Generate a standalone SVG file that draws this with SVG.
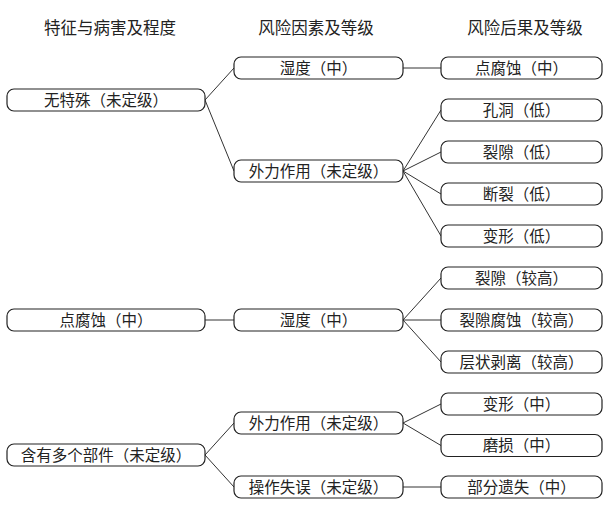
<svg xmlns="http://www.w3.org/2000/svg" width="611" height="521" viewBox="0 0 611 521">
<style>
.bg{fill:#fff}
.box{fill:#fff;stroke:#222;stroke-width:1.2}
.t{font-family:"Noto Sans CJK SC","Noto Sans",sans-serif;font-size:15.5px;fill:#222;text-anchor:middle}
.h{font-family:"Noto Sans CJK SC","Noto Sans",sans-serif;font-size:16.5px;fill:#222;text-anchor:middle}
.c{stroke:#333;stroke-width:1;fill:none}
</style>
<rect class="bg" width="611" height="521"/>
<g id="headers">
<text class="h" x="110" y="34">特征与病害及程度</text>
<text class="h" x="316" y="34">风险因素及等级</text>
<text class="h" x="525" y="34">风险后果及等级</text>
</g>
<g id="connectors">
<path class="c" d="M205 100L234 68M205 100L234 171M403 68H441M403 171L441 110M403 171L441 152M403 171L441 194M403 171L441 236"/>
<path class="c" d="M205 320H234M403 320L441 278M403 320H441M403 320L441 362"/>
<path class="c" d="M205 455L234 423M205 455L234 487M403 423L441 404M403 423L441 445.5M403 487H441"/>
</g>
<g id="n1"><rect class="box" x="7" y="89" width="198" height="22" rx="7"/><text class="t" x="106" y="105.5">无特殊（未定级）</text></g>
<g id="n2"><rect class="box" x="234" y="57" width="169" height="22" rx="7"/><text class="t" x="318.5" y="73.5">湿度（中）</text></g>
<g id="n3"><rect class="box" x="234" y="160" width="169" height="22" rx="7"/><text class="t" x="318.5" y="176.5">外力作用（未定级）</text></g>
<g id="n4"><rect class="box" x="441" y="57" width="161" height="22" rx="7"/><text class="t" x="521.5" y="73.5">点腐蚀（中）</text></g>
<g id="n5"><rect class="box" x="441" y="99" width="161" height="22" rx="7"/><text class="t" x="521.5" y="115.5">孔洞（低）</text></g>
<g id="n6"><rect class="box" x="441" y="141" width="161" height="22" rx="7"/><text class="t" x="521.5" y="157.5">裂隙（低）</text></g>
<g id="n7"><rect class="box" x="441" y="183" width="161" height="22" rx="7"/><text class="t" x="521.5" y="199.5">断裂（低）</text></g>
<g id="n8"><rect class="box" x="441" y="225" width="161" height="22" rx="7"/><text class="t" x="521.5" y="241.5">变形（低）</text></g>
<g id="n9"><rect class="box" x="7" y="309" width="198" height="22" rx="7"/><text class="t" x="106" y="325.5">点腐蚀（中）</text></g>
<g id="n10"><rect class="box" x="234" y="309" width="169" height="22" rx="7"/><text class="t" x="318.5" y="325.5">湿度（中）</text></g>
<g id="n11"><rect class="box" x="441" y="267" width="161" height="22" rx="7"/><text class="t" x="521.5" y="283.5">裂隙（较高）</text></g>
<g id="n12"><rect class="box" x="441" y="309" width="161" height="22" rx="7"/><text class="t" x="521.5" y="325.5">裂隙腐蚀（较高）</text></g>
<g id="n13"><rect class="box" x="441" y="351" width="161" height="22" rx="7"/><text class="t" x="521.5" y="367.5">层状剥离（较高）</text></g>
<g id="n14"><rect class="box" x="7" y="444" width="198" height="22" rx="7"/><text class="t" x="106" y="460.5">含有多个部件（未定级）</text></g>
<g id="n15"><rect class="box" x="234" y="412" width="169" height="22" rx="7"/><text class="t" x="318.5" y="428.5">外力作用（未定级）</text></g>
<g id="n16"><rect class="box" x="234" y="476" width="169" height="22" rx="7"/><text class="t" x="318.5" y="492.5">操作失误（未定级）</text></g>
<g id="n17"><rect class="box" x="441" y="393" width="161" height="22" rx="7"/><text class="t" x="521.5" y="409.5">变形（中）</text></g>
<g id="n18"><rect class="box" x="441" y="434.5" width="161" height="22" rx="7"/><text class="t" x="521.5" y="451">磨损（中）</text></g>
<g id="n19"><rect class="box" x="441" y="476" width="161" height="22" rx="7"/><text class="t" x="521.5" y="492.5">部分遗失（中）</text></g>
</svg>
